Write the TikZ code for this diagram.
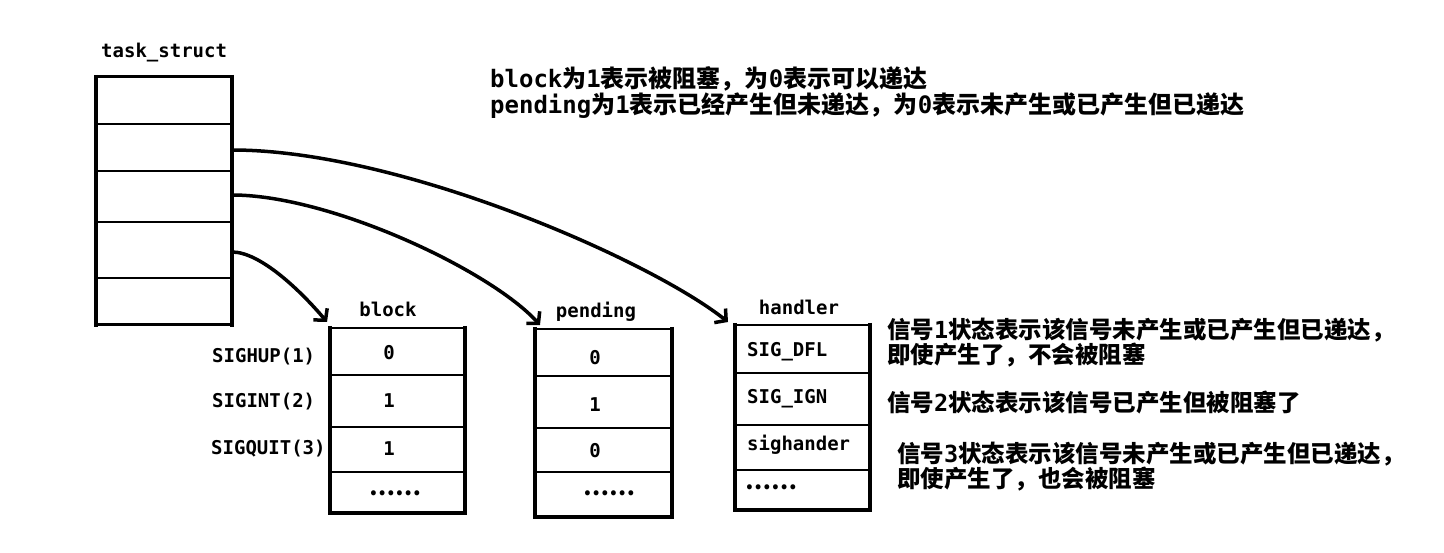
\documentclass[tikz,border=0pt]{standalone}
\usepackage{fontspec}
\newfontfamily\cjk{Noto Sans CJK SC}
\newfontfamily\mono{DejaVu Sans Mono}
\usetikzlibrary{arrows.meta}
\begin{document}
\begin{tikzpicture}[x=1pt,y=-1pt,
  lbl/.style={inner sep=0pt, font=\mono\bfseries\fontsize{19}{20}\selectfont},
  zh/.style={inner sep=0pt, anchor=base west, text height=15pt, text depth=3pt, font=\cjk\bfseries\fontsize{24}{24}\selectfont},
  zhs/.style={zh, font=\cjk\bfseries\fontsize{23.5}{23.5}\selectfont},
  dots/.style={inner sep=0pt, font=\cjk\bfseries\fontsize{23}{23}\selectfont},
  side/.style={line width=4pt},
  rowline/.style={line width=2pt},
  edge/.style={line width=3pt},
  conn/.style={line width=3.5pt, line cap=round, -{Straight Barb[length=8pt,width=18pt,line width=3.5pt]}},
]
\useasboundingbox[fill=white] (0,0) rectangle (1444,553);

% ---------- task_struct ----------
\node[lbl, anchor=base west] (tslabel) at (101,58) {task\_struct};
\draw[side] (96,75) -- (96,327) (232,75) -- (232,327);
\draw[edge] (94,77) -- (234,77);
\foreach \y in {124,171,222,278} \draw[rowline] (96,\y) -- (232,\y);
\draw[edge] (94,325) -- (234,325);
\coordinate (ts2) at (232,150);
\coordinate (ts3) at (232,195);
\coordinate (ts4) at (232,252);

% ---------- block ----------
\node[lbl, anchor=base] (blocklabel) at (388,317) {block};
\draw[side] (330,326) -- (330,515) (465,326) -- (465,515);
\foreach \y in {328,375,427,472} \draw[rowline] (330,\y) -- (465,\y);
\draw[side] (328,513) -- (467,513);
\coordinate (blockin) at (327,322);
\node[lbl, anchor=base] (b1) at (389,360) {0};
\node[lbl, anchor=base] (b2) at (389,408) {1};
\node[lbl, anchor=base] (b3) at (389,455) {1};
\node[dots, anchor=center] (b4) at (395,493) {……};
\node[lbl, anchor=base west] (s1) at (212,363) {SIGHUP(1)};
\node[lbl, anchor=base west] (s2) at (212,408) {SIGINT(2)};
\node[lbl, anchor=base west] (s3) at (211,454) {SIGQUIT(3)};

% ---------- pending ----------
\node[lbl, anchor=base] (pendlabel) at (596,318) {pending};
\draw[side] (535,327) -- (535,519) (672,327) -- (672,519);
\foreach \y in {329,376,428,472} \draw[rowline] (535,\y) -- (672,\y);
\draw[side] (533,517) -- (674,517);
\coordinate (pendin) at (540,325);
\node[lbl, anchor=base] (p1) at (595,365) {0};
\node[lbl, anchor=base] (p2) at (595,412) {1};
\node[lbl, anchor=base] (p3) at (595,457) {0};
\node[dots, anchor=center] (p4) at (609,493) {……};

% ---------- handler ----------
\node[lbl, anchor=base] (handlabel) at (799,315) {handler};
\draw[side] (735,323) -- (735,512) (870,323) -- (870,512);
\foreach \y in {325,373,425,470} \draw[rowline] (735,\y) -- (870,\y);
\draw[side] (733,510) -- (872,510);
\coordinate (handin) at (728,322);
\node[lbl, anchor=base west] (h1) at (747,357) {SIG\_DFL};
\node[lbl, anchor=base west] (h2) at (747,403) {SIG\_IGN};
\node[lbl, anchor=base west] (h3) at (747,450) {sighander};
\node[dots, anchor=center] (h4) at (771,487) {……};

% ---------- connectors ----------
\draw[conn] (ts2) .. controls (400,150) and (650,260) .. (handin);
\draw[conn] (ts3) .. controls (330,195) and (490,270) .. (pendin);
\draw[conn] (ts4) .. controls (260,252) and (300,290) .. (blockin);

% ---------- notes ----------
\node[zh] (note1) at (490,88) {{\mono\bfseries block}为{\mono\bfseries 1}表示被阻塞，为{\mono\bfseries 0}表示可以递达};
\node[zh] (note2) at (490,114) {{\mono\bfseries pending}为{\mono\bfseries 1}表示已经产生但未递达，为{\mono\bfseries 0}表示未产生或已产生但已递达};

\node[zhs] (r1a) at (887,339) {信号{\mono\bfseries 1}状态表示该信号未产生或已产生但已递达，};
\node[zhs] (r1b) at (887,364) {即使产生了，不会被阻塞};
\node[zhs] (r2) at (887,411) {信号{\mono\bfseries 2}状态表示该信号已产生但被阻塞了};
\node[zhs] (r3a) at (897,462) {信号{\mono\bfseries 3}状态表示该信号未产生或已产生但已递达，};
\node[zhs] (r3b) at (897,487) {即使产生了，也会被阻塞};
\end{tikzpicture}
\end{document}
